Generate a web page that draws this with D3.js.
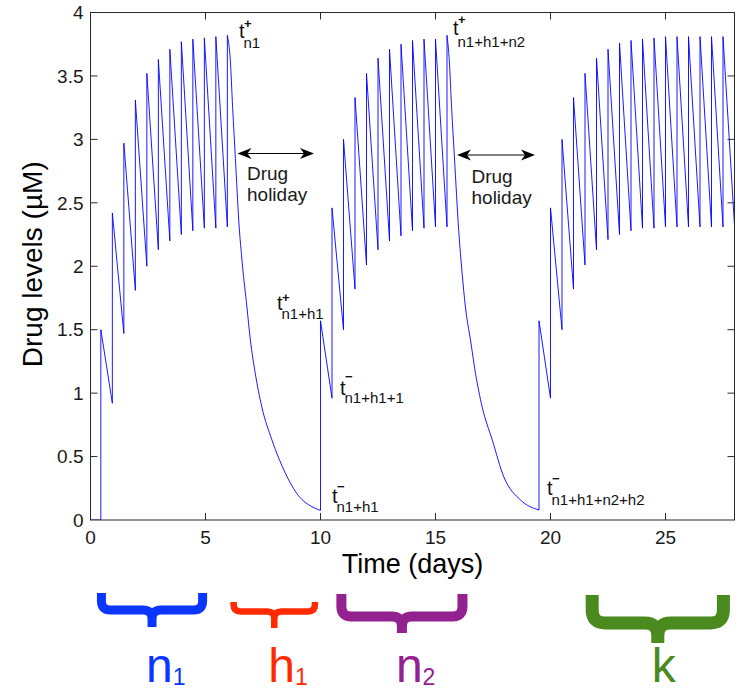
<!DOCTYPE html>
<html>
<head>
<meta charset="utf-8">
<script src="https://cdnjs.cloudflare.com/ajax/libs/d3/7.8.5/d3.min.js"></script>
<style>
  body { margin: 0; background: #fff; }
  text { font-family: "Liberation Sans", Arial, sans-serif; }
</style>
</head>
<body>
<div id="chart"></div>
<script>

// ---- data ----

// first dosing block (n1): dose times (days), level right after dose, level just before next dose
var dose1Times = [0.45, 0.95, 1.45, 1.95, 2.45, 2.95, 3.45, 3.95, 4.45, 4.95, 5.45, 5.95];
var peak1 = [1.50, 2.42, 2.97, 3.31, 3.52, 3.63, 3.71, 3.77, 3.79, 3.80, 3.81, 3.82];
var trough1 = [0.92, 1.47, 1.81, 2.00, 2.13, 2.20, 2.25, 2.28, 2.30, 2.30, 2.31];

// first drug holiday (h1) washout
var holiday1Times = [6.08, 6.18, 6.30, 6.45, 6.60, 6.80, 6.95, 7.16, 7.45, 7.89, 8.47, 9.05, 9.63, 10.0];
var holiday1Levels = [3.62, 3.25, 2.85, 2.35, 2.02, 1.68, 1.42, 1.16, 0.89, 0.63, 0.37, 0.19, 0.105, 0.075];

// second dosing block (n2)
var dose2Times = [10.0, 10.5, 11.0, 11.5, 12.0, 12.5, 13.0, 13.5, 14.0, 14.5, 15.0, 15.5];
var peak2 = [1.57, 2.46, 3.00, 3.33, 3.52, 3.64, 3.71, 3.75, 3.78, 3.79, 3.79, 3.82];
var trough2 = [0.96, 1.50, 1.82, 2.01, 2.13, 2.20, 2.24, 2.28, 2.30, 2.31, 2.31];

// second drug holiday (h2)
var holiday2Times = [15.60, 15.70, 15.82, 16.01, 16.16, 16.30, 16.52, 16.74, 17.03, 17.47, 17.97, 18.70, 19.5];
var holiday2Levels = [3.62, 3.25, 2.87, 2.28, 1.94, 1.68, 1.42, 1.155, 0.89, 0.63, 0.34, 0.157, 0.079];

// last block (k)
var dose3Times = [19.5, 20.0, 20.5, 21.0, 21.5, 22.0, 22.5, 23.0, 23.5, 24.0, 24.5, 25.0, 25.5, 26.0, 26.5, 27.0, 27.5];
var peak3 = [1.57, 2.46, 3.00, 3.33, 3.52, 3.64, 3.71, 3.76, 3.78, 3.79, 3.80, 3.81, 3.81, 3.81, 3.81, 3.81, 3.81];
var trough3 = [0.96, 1.50, 1.82, 2.01, 2.13, 2.21, 2.25, 2.28, 2.30, 2.30, 2.31, 2.31, 2.31, 2.31, 2.31, 2.31, 2.32];

var xTicks = [0, 5, 10, 15, 20, 25];
var yTicks = [0, 0.5, 1, 1.5, 2, 2.5, 3, 3.5, 4];
var yTickLabels = ["0", "0.5", "1", "1.5", "2", "2.5", "3", "3.5", "4"];

// braces under the axis (in days) and their labels
var braceNames = ["n", "h", "n", "k"];
var braceSubs = ["1", "1", "2", ""];
var braceFrom = [0.28, 6.08, 10.69, 21.53];
var braceTo = [5.07, 9.90, 16.39, 27.80];

// ---- drawing ----

var width = 739, height = 693;

var svg = d3.select("#chart").append("svg")
    .attr("width", width)
    .attr("height", height);

var x = d3.scaleLinear().domain([0, 28]).range([90.5, 734.5]);
var y = d3.scaleLinear().domain([0, 4]).range([520, 12.5]);

// dosing blocks are straight saw teeth, washouts are smooth curves
function block(startPt, times, peaks, troughs, endTime) {
  var pts = [startPt];
  for (var i = 0; i < times.length; i++) {
    pts.push([times[i], pts[pts.length - 1][1]]);
    pts.push([times[i], peaks[i]]);
    if (i < troughs.length) {
      var tNext = (i + 1 < times.length) ? times[i + 1] : endTime;
      pts.push([tNext, troughs[i]]);
    }
  }
  return pts;
}
function washout(startPt, times, levels) {
  var pts = [startPt];
  for (var i = 0; i < times.length; i++) pts.push([times[i], levels[i]]);
  return pts;
}

var seg1 = block([0, 0], dose1Times, peak1, trough1);
var wash1 = washout(seg1[seg1.length - 1], holiday1Times, holiday1Levels);
var seg2 = block(wash1[wash1.length - 1], dose2Times, peak2, trough2);
var wash2 = washout(seg2[seg2.length - 1], holiday2Times, holiday2Levels);
var seg3 = block(wash2[wash2.length - 1], dose3Times, peak3, trough3, 28);

svg.append("clipPath").attr("id", "plotclip")
  .append("rect")
    .attr("x", x(0)).attr("y", y(4))
    .attr("width", x(28) - x(0)).attr("height", y(0) - y(4));

var sawLine = d3.line()
    .x(function(d) { return x(d[0]); })
    .y(function(d) { return y(d[1]); });

var washLine = d3.line()
    .curve(d3.curveMonotoneX)
    .x(function(d) { return x(d[0]); })
    .y(function(d) { return y(d[1]); });

var trace = svg.append("g")
    .attr("clip-path", "url(#plotclip)")
    .style("fill", "none")
    .style("stroke", "#0000ff")
    .style("stroke-width", 0.9);

[seg1, seg2, seg3].forEach(function(s) {
  trace.append("path").datum(s).attr("d", sawLine);
});
[wash1, wash2].forEach(function(s) {
  trace.append("path").datum(s).attr("d", washLine);
});

// axes, matlab box style with inward ticks on all sides
var tickLen = 7;
var axisColor = "#2b2b2b";

svg.append("rect")
    .attr("x", x(0)).attr("y", y(4))
    .attr("width", x(28) - x(0)).attr("height", y(0) - y(4))
    .style("fill", "none")
    .style("stroke", axisColor)
    .style("stroke-width", 1);

var ticks = svg.append("g").style("stroke", axisColor).style("stroke-width", 1);

xTicks.forEach(function(t) {
  if (t == 0) return;
  ticks.append("line").attr("x1", x(t)).attr("x2", x(t)).attr("y1", y(0)).attr("y2", y(0) - tickLen);
  ticks.append("line").attr("x1", x(t)).attr("x2", x(t)).attr("y1", y(4)).attr("y2", y(4) + tickLen);
});
yTicks.forEach(function(t) {
  if (t == 0 || t == 4) return;
  ticks.append("line").attr("x1", x(0)).attr("x2", x(0) + tickLen).attr("y1", y(t)).attr("y2", y(t));
  ticks.append("line").attr("x1", x(28)).attr("x2", x(28) - tickLen).attr("y1", y(t)).attr("y2", y(t));
});

svg.selectAll(".xlab")
    .data(xTicks)
  .enter().append("text")
    .attr("class", "xlab")
    .attr("x", function(d) { return x(d); })
    .attr("y", 544)
    .attr("text-anchor", "middle")
    .style("font-size", "19px")
    .style("fill", "#1a1a1a")
    .text(function(d) { return d; });

svg.selectAll(".ylab")
    .data(yTicks)
  .enter().append("text")
    .attr("class", "ylab")
    .attr("x", x(0) - 7)
    .attr("y", function(d) { return y(d) + 6.7; })
    .attr("text-anchor", "end")
    .style("font-size", "19px")
    .style("fill", "#1a1a1a")
    .text(function(d, i) { return yTickLabels[i]; });

svg.append("text")
    .attr("x", (x(0) + x(28)) / 2)
    .attr("y", 573)
    .attr("text-anchor", "middle")
    .style("font-size", "27px")
    .text("Time (days)");

svg.append("text")
    .attr("transform", "translate(42," + ((y(0) + y(4)) / 2 - 2) + ") rotate(-90)")
    .attr("text-anchor", "middle")
    .style("font-size", "28px")
    .text("Drug levels (\u00b5M)");

// t labels: x of t, baseline of t, sign, baseline of sign, subscript, baseline of sub
function tLabel(tx, ty, sign, sy, sub, suby) {
  var g = svg.append("g").style("fill", "#111");
  g.append("text").attr("x", tx).attr("y", ty).style("font-size", "20px").text("t");
  g.append("text").attr("x", tx + 5).attr("y", sy)
    .style("font-size", "13px").style("font-weight", "bold")
    .text(sign);
  g.append("text").attr("x", tx + 4.5).attr("y", suby).style("font-size", "15px").text(sub);
}

tLabel(239, 38, "+", 28, "n1", 48);
tLabel(453, 35, "+", 24, "n1+h1+n2", 47);
tLabel(277, 310, "+", 302, "n1+h1", 318.5);
tLabel(340, 395, "\u2212", 381, "n1+h1+1", 402.5);
tLabel(332, 503, "\u2212", 491, "n1+h1", 512);
tLabel(547, 495, "\u2212", 483, "n1+h1+n2+h2", 505);

// double arrows for the drug holidays
function doubleArrow(x0, x1, yy) {
  var hl = 14, hw = 5.5, notch = 4;
  var g = svg.append("g");
  g.append("line")
    .attr("x1", x0 + hl - notch).attr("x2", x1 - hl + notch)
    .attr("y1", yy).attr("y2", yy)
    .style("stroke", "#000").style("stroke-width", 1.2);
  g.append("path")
    .attr("d", "M" + x0 + "," + yy + " L" + (x0 + hl) + "," + (yy - hw) +
      " L" + (x0 + hl - notch) + "," + yy + " L" + (x0 + hl) + "," + (yy + hw) + " Z")
    .style("fill", "#000");
  g.append("path")
    .attr("d", "M" + x1 + "," + yy + " L" + (x1 - hl) + "," + (yy - hw) +
      " L" + (x1 - hl + notch) + "," + yy + " L" + (x1 - hl) + "," + (yy + hw) + " Z")
    .style("fill", "#000");
}

doubleArrow(237.5, 314, 153.5);
doubleArrow(457, 535, 155);

function holidayText(tx, ty) {
  var g = svg.append("g").style("font-size", "19px").style("fill", "#1a1a1a");
  g.append("text").attr("x", tx).attr("y", ty).text("Drug");
  g.append("text").attr("x", tx).attr("y", ty + 21.5).text("holiday");
}
holidayText(247, 179.5);
holidayText(471.5, 182.5);

// curly braces below the plot
var braceColors = ["#0a36ff", "#ff2a00", "#93218f", "#4a8a1f"];
var braceStyle = [
  {top: 593, bar: 610, tip: 627, w: 9, r: 9},
  {top: 602, bar: 611.5, tip: 628, w: 6.5, r: 7},
  {top: 594, bar: 616.5, tip: 633, w: 10, r: 10},
  {top: 595, bar: 623, tip: 643, w: 13, r: 13}
];

function bracePath(x0, x1, s) {
  var a = x0 + s.w / 2, b = x1 - s.w / 2, c = (x0 + x1) / 2, r = s.r;
  var p = d3.path();
  p.moveTo(a, s.top);
  p.lineTo(a, s.bar - r);
  p.quadraticCurveTo(a, s.bar, a + r, s.bar);
  p.lineTo(c - r, s.bar);
  p.quadraticCurveTo(c, s.bar, c, s.bar + r);
  p.lineTo(c, s.tip);
  p.moveTo(c, s.bar + r);
  p.quadraticCurveTo(c, s.bar, c + r, s.bar);
  p.lineTo(b - r, s.bar);
  p.quadraticCurveTo(b, s.bar, b, s.bar - r);
  p.lineTo(b, s.top);
  return p.toString();
}

braceNames.forEach(function(name, i) {
  var x0 = x(braceFrom[i]), x1 = x(braceTo[i]);
  var s = braceStyle[i];
  svg.append("path")
      .attr("d", bracePath(x0, x1, s))
      .style("fill", "none")
      .style("stroke", braceColors[i])
      .style("stroke-width", s.w)
      .style("stroke-linejoin", "round");

  var lab = svg.append("text")
      .attr("x", (x0 + x1) / 2 - 6)
      .attr("y", 682)
      .style("font-size", "48px")
      .style("fill", braceColors[i]);
  lab.append("tspan").text(name);
  if (braceSubs[i] != "") {
    lab.append("tspan")
      .attr("dy", 3)
      .style("font-size", "23px")
      .text(braceSubs[i]);
  }
});

</script>
</body>
</html>
